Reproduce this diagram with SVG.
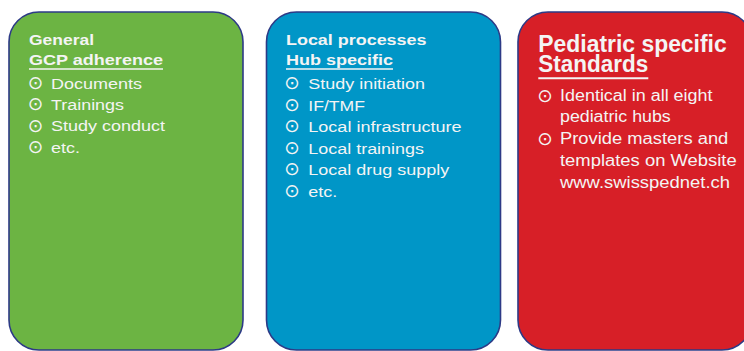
<svg xmlns="http://www.w3.org/2000/svg" width="744" height="351" viewBox="0 0 744 351">
<style>
.box{stroke:#2d3a86;stroke-width:1.6}
text{font-family:"Liberation Sans",Arial,Helvetica,sans-serif;fill:#f4f4f4}
.h{font-weight:bold;font-size:14.5px}
.hr{font-weight:bold;font-size:23px}
.i{font-size:15.5px}
.ir{font-size:16px}
.b{font-family:"DejaVu Sans",sans-serif;font-size:18.5px;text-anchor:middle}
.u{stroke:#f4f4f4;stroke-width:1.5}
.u2{stroke:#f4f4f4;stroke-width:2}
</style>
<rect width="744" height="351" fill="#ffffff"/>
<g id="general">
<rect class="box" x="9" y="12" width="234" height="338" rx="30" ry="30" fill="#6cb443"/>
<text class="h" x="29" y="45" textLength="65" lengthAdjust="spacingAndGlyphs">General</text>
<text class="h" x="29" y="65" textLength="134" lengthAdjust="spacingAndGlyphs">GCP adherence</text>
<line class="u" x1="29" y1="69" x2="163" y2="69"/>
<text class="b" x="35.5" y="89.2">⊙</text>
<text class="i" x="51" y="89" textLength="91" lengthAdjust="spacingAndGlyphs">Documents</text>
<text class="b" x="35.5" y="110.4">⊙</text>
<text class="i" x="51" y="110.2" textLength="73" lengthAdjust="spacingAndGlyphs">Trainings</text>
<text class="b" x="35.5" y="131.6">⊙</text>
<text class="i" x="51" y="131.4" textLength="114" lengthAdjust="spacingAndGlyphs">Study conduct</text>
<text class="b" x="35.5" y="152.8">⊙</text>
<text class="i" x="51" y="152.6" textLength="29" lengthAdjust="spacingAndGlyphs">etc.</text>
</g>
<g id="local">
<rect class="box" x="266.5" y="12" width="234" height="338" rx="30" ry="30" fill="#0096c7"/>
<text class="h" x="286" y="45" textLength="140.5" lengthAdjust="spacingAndGlyphs">Local processes</text>
<text class="h" x="286" y="65" textLength="107" lengthAdjust="spacingAndGlyphs">Hub specific</text>
<line class="u" x1="286" y1="69" x2="393" y2="69"/>
<text class="b" x="292" y="89.2">⊙</text>
<text class="i" x="308.3" y="89" textLength="116.7" lengthAdjust="spacingAndGlyphs">Study initiation</text>
<text class="b" x="292" y="110.7">⊙</text>
<text class="i" x="308.3" y="110.5" textLength="56.7" lengthAdjust="spacingAndGlyphs">IF/TMF</text>
<text class="b" x="292" y="132.2">⊙</text>
<text class="i" x="308.3" y="132" textLength="153.3" lengthAdjust="spacingAndGlyphs">Local infrastructure</text>
<text class="b" x="292" y="153.7">⊙</text>
<text class="i" x="308.3" y="153.5" textLength="115.7" lengthAdjust="spacingAndGlyphs">Local trainings</text>
<text class="b" x="292" y="175.2">⊙</text>
<text class="i" x="308.3" y="175" textLength="141" lengthAdjust="spacingAndGlyphs">Local drug supply</text>
<text class="b" x="292" y="196.7">⊙</text>
<text class="i" x="308.3" y="196.5" textLength="29" lengthAdjust="spacingAndGlyphs">etc.</text>
</g>
<g id="pediatric">
<rect class="box" x="518" y="12" width="234" height="338" rx="30" ry="30" fill="#d71f27"/>
<text class="hr" x="538.3" y="52.3" textLength="188.4" lengthAdjust="spacingAndGlyphs">Pediatric specific</text>
<text class="hr" x="538.3" y="72" textLength="110" lengthAdjust="spacingAndGlyphs">Standards</text>
<line class="u2" x1="538.3" y1="78.3" x2="648.3" y2="78.3"/>
<text class="b" x="545" y="101.6">⊙</text>
<text class="ir" x="560" y="100.7" textLength="152.5" lengthAdjust="spacingAndGlyphs">Identical in all eight</text>
<text class="ir" x="560" y="122.4" textLength="110.7" lengthAdjust="spacingAndGlyphs">pediatric hubs</text>
<text class="b" x="545" y="145">⊙</text>
<text class="ir" x="560" y="144.1" textLength="168.3" lengthAdjust="spacingAndGlyphs">Provide masters and</text>
<text class="ir" x="560" y="165.8" textLength="176.7" lengthAdjust="spacingAndGlyphs">templates on Website</text>
<text class="ir" x="560" y="187.5" textLength="170" lengthAdjust="spacingAndGlyphs">www.swisspednet.ch</text>
</g>
<g id="connectors"/>
</svg>
